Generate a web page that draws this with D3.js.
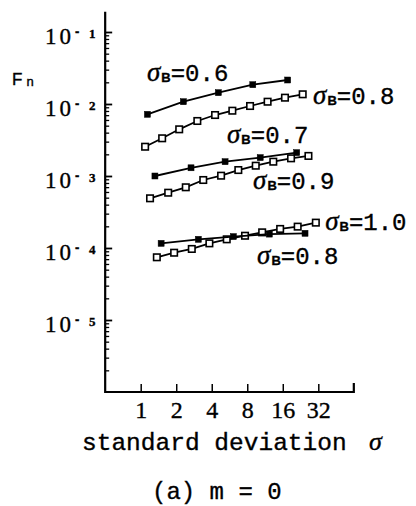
<!DOCTYPE html>
<html>
<head>
<meta charset="utf-8">
<script src="https://cdn.jsdelivr.net/npm/d3@7"></script>
<style>
body { margin: 0; background: #fff; }
svg { display: block; }
svg text { fill: #000; stroke: #000; stroke-width: 0.35px; }
</style>
</head>
<body>
<script>
// tick labels
var sigmaTicks = [1, 2, 4, 8, 16, 32];
var expTicks = [1, 2, 3, 4, 5];

// sigma_B = 0.6 (filled)
var s06x = [1.14, 2.30, 4.55, 8.91, 17.6];
var s06y = [0.00719, 0.01076, 0.01436, 0.01854, 0.02154];
// sigma_B = 0.8 (open, upper)
var s08ax = [1.09, 1.52, 2.12, 3.02, 4.27, 5.98, 8.45, 11.9, 16.7, 23.6];
var s08ay = [0.00255, 0.00334, 0.00445, 0.00581, 0.00703, 0.00807, 0.00938, 0.01076, 0.01224, 0.01364];
// sigma_B = 0.7 (filled)
var s07x = [1.32, 2.67, 5.19, 10.3, 21.0];
var s07y = [0.00100, 0.00130, 0.00158, 0.00180, 0.00211];
// sigma_B = 0.9 (open)
var s09x = [1.20, 1.71, 2.41, 3.39, 4.80, 6.72, 9.44, 13.3, 18.8, 26.4];
var s09y = [0.00049, 0.000586, 0.000697, 0.00088, 0.00101, 0.00121, 0.00139, 0.00158, 0.00176, 0.00190];
// sigma_B = 1.0 (open)
var s10x = [1.37, 1.92, 2.71, 3.82, 5.36, 7.66, 10.7, 15.2, 21.4, 30.5];
var s10y = [7.43e-5, 8.6e-5, 9.7e-5, 1.16e-4, 1.32e-4, 1.48e-4, 1.65e-4, 1.84e-4, 1.98e-4, 2.25e-4];
// sigma_B = 0.8 (filled, lower)
var s08bx = [1.49, 3.08, 6.10, 12.3, 24.7];
var s08by = [1.16e-4, 1.32e-4, 1.44e-4, 1.56e-4, 1.60e-4];

var series = [
	{label: "0.6", filled: true, xs: s06x, ys: s06y, at: [1.13, 0.0209]},
	{label: "0.8", filled: false, xs: s08ax, ys: s08ay, at: [28.9, 0.0100]},
	{label: "0.7", filled: true, xs: s07x, ys: s07y, at: [5.39, 0.00287]},
	{label: "0.9", filled: false, xs: s09x, ys: s09y, at: [8.96, 0.00066]},
	{label: "1.0", filled: false, xs: s10x, ys: s10y, at: [36.6, 1.78e-4]},
	{label: "0.8", filled: true, xs: s08bx, ys: s08by, at: [9.69, 6.0e-5]}
];

var width = 416, height = 506;

var x = d3.scaleLog().base(2)
	.domain([1, 32])
	.range([140.7, 318.3]);
var y = d3.scaleLog()
	.domain([1e-5, 1e-1])
	.range([320, 32]);

var xLeft = x(0.5), xRight = x(64);
var yBottom = y(1e-6), yTop = y(Math.pow(10, -0.72));

var svg = d3.select("body").append("svg")
	.attr("width", width)
	.attr("height", height);

// y ticks (inside)
var majors = [1e-1, 1e-2, 1e-3, 1e-4, 1e-5];
var minors = [];
[-6, -5, -4, -3, -2].forEach(function(k) {
	for (var m = 2; m <= 9; m++) {
		var v = m * Math.pow(10, k);
		if (y(v) > yTop) minors.push(v);
	}
});

function styleTicks(g, w) {
	g.select(".domain").remove();
	g.selectAll("line").attr("stroke", "#000").attr("stroke-width", w);
}

svg.append("g")
	.attr("transform", "translate(" + xLeft + ",0)")
	.call(d3.axisLeft(y).tickValues(majors).tickSize(-7).tickFormat(""))
	.call(styleTicks, 1.8);
svg.append("g")
	.attr("transform", "translate(" + xLeft + ",0)")
	.call(d3.axisLeft(y).tickValues(minors).tickSize(-4).tickFormat(""))
	.call(styleTicks, 1.3);

// x ticks (inside) with labels below
var xAxis = svg.append("g")
	.attr("transform", "translate(0," + yBottom + ")")
	.call(d3.axisBottom(x).tickValues(sigmaTicks).tickSize(-8).tickPadding(9)
		.tickFormat(d3.format("d")))
	.call(styleTicks, 1.5);
xAxis.selectAll("text")
	.attr("font-family", "'Liberation Serif', serif")
	.attr("font-size", 24)
	.attr("fill", "#000");

// axis lines
svg.append("path")
	.attr("d", "M" + xLeft + "," + yTop + "V" + yBottom + "H" + xRight + "V" + (yBottom - 9))
	.attr("fill", "none")
	.attr("stroke", "#000")
	.attr("stroke-width", 2.2);

// y tick labels 10^-k
expTicks.forEach(function(k) {
	var ty = y(Math.pow(10, -k));
	svg.append("text")
		.attr("x", 45)
		.attr("y", ty + 11.5)
		.attr("font-family", "'Liberation Serif', serif")
		.attr("font-size", 23)
		.attr("letter-spacing", 3)
		.text("10");
	svg.append("text")
		.attr("x", 75)
		.attr("y", ty + 4)
		.attr("font-family", "'Liberation Sans', sans-serif")
		.attr("font-weight", "bold")
		.attr("font-size", 13)
		.text("-");
	svg.append("text")
		.attr("x", 89)
		.attr("y", ty + 5.5)
		.attr("font-family", "'Liberation Serif', serif")
		.attr("font-weight", "bold")
		.attr("font-size", 13)
		.text(k);
});

// F_n
var fn = svg.append("text")
	.attr("x", 12)
	.attr("y", 85)
	.attr("font-family", "'Liberation Sans', sans-serif")
	.attr("font-size", 17);
fn.append("tspan").text("F");
fn.append("tspan").attr("dx", 4).attr("dy", 1).attr("font-size", 13).text("n");

// series
var line = d3.line()
	.x(function(d) { return x(d[0]); })
	.y(function(d) { return y(d[1]); });

series.forEach(function(s) {
	var pts = s.xs.map(function(v, i) { return [v, s.ys[i]]; });
	svg.append("path")
		.datum(pts)
		.attr("d", line)
		.attr("fill", "none")
		.attr("stroke", "#000")
		.attr("stroke-width", 1.8);
	var sz = s.filled ? 6 : 6.5;
	svg.selectAll(null)
		.data(pts)
		.enter().append("rect")
		.attr("x", function(d) { return x(d[0]) - sz / 2; })
		.attr("y", function(d) { return y(d[1]) - sz / 2; })
		.attr("width", sz)
		.attr("height", sz)
		.attr("fill", s.filled ? "#000" : "#fff")
		.attr("stroke", "#000")
		.attr("stroke-width", s.filled ? 0.5 : 1.6);

	var t = svg.append("text")
		.attr("x", x(s.at[0]))
		.attr("y", y(s.at[1]));
	t.append("tspan")
		.attr("font-family", "'Liberation Serif', serif")
		.attr("font-style", "italic")
		.attr("font-size", 27)
		.text("σ");
	t.append("tspan")
		.attr("font-family", "'Liberation Sans', sans-serif")
		.attr("font-weight", "bold")
		.attr("font-size", 13)
		.attr("dx", 1)
		.attr("dy", 1)
		.text("B");
	t.append("tspan")
		.attr("font-family", "'Liberation Mono', monospace")
		.attr("font-size", 24)
		.attr("dy", -1)
		.text("=" + s.label);
});

// axis titles
svg.append("text")
	.attr("x", 82)
	.attr("y", 450)
	.attr("font-family", "'Liberation Mono', monospace")
	.attr("font-size", 24.5)
	.text("standard deviation");
svg.append("text")
	.attr("x", 369)
	.attr("y", 450)
	.attr("font-family", "'Liberation Serif', serif")
	.attr("font-style", "italic")
	.attr("font-size", 26)
	.text("σ");

svg.append("text")
	.attr("x", 152)
	.attr("y", 499)
	.attr("font-family", "'Liberation Mono', monospace")
	.attr("font-size", 24)
	.attr("xml:space", "preserve")
	.style("white-space", "pre")
	.text("(a) m = 0");
</script>
</body>
</html>
